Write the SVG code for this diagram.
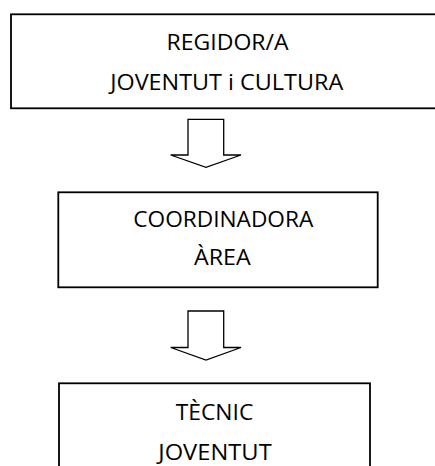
<svg xmlns="http://www.w3.org/2000/svg" width="435" height="466" viewBox="0 0 435 466">
<style>
.box{fill:#fff;stroke:#000;stroke-width:1.8}
.arr{fill:#fff;stroke:#000;stroke-width:1.3;stroke-linejoin:miter}
text{font-family:"Open Sans","Liberation Sans",sans-serif;font-size:21px;fill:#000;text-anchor:middle}
</style>
<rect width="435" height="466" fill="#fff"/>
<g id="node-regidor">
<rect class="box" x="11" y="14.3" width="440" height="94"/>
<text x="227.5" y="50" textLength="122" lengthAdjust="spacingAndGlyphs">REGIDOR/A</text>
<text x="226.7" y="90" textLength="233" lengthAdjust="spacingAndGlyphs">JOVENTUT i CULTURA</text>
</g>
<g id="node-coordinadora">
<rect class="box" x="58.3" y="192.3" width="319.4" height="95"/>
<text x="223.3" y="226.7" textLength="180" lengthAdjust="spacingAndGlyphs">COORDINADORA</text>
<text x="222.3" y="265" textLength="56.7" lengthAdjust="spacingAndGlyphs">ÀREA</text>
</g>
<g id="node-tecnic">
<rect class="box" x="59" y="383.3" width="311" height="100"/>
<text x="214.5" y="420" textLength="77.6" lengthAdjust="spacingAndGlyphs">TÈCNIC</text>
<text x="215" y="460" textLength="113.4" lengthAdjust="spacingAndGlyphs">JOVENTUT</text>
</g>
<g id="connectors">
<polygon class="arr" points="188,119.3 223.7,119.3 223.7,155 241,155 206,167.3 170.7,155 188,155"/>
<polygon class="arr" points="188,311 223.7,311 223.7,347.5 241,347.5 206,360 170.7,347.5 188,347.5"/>
</g>
</svg>
